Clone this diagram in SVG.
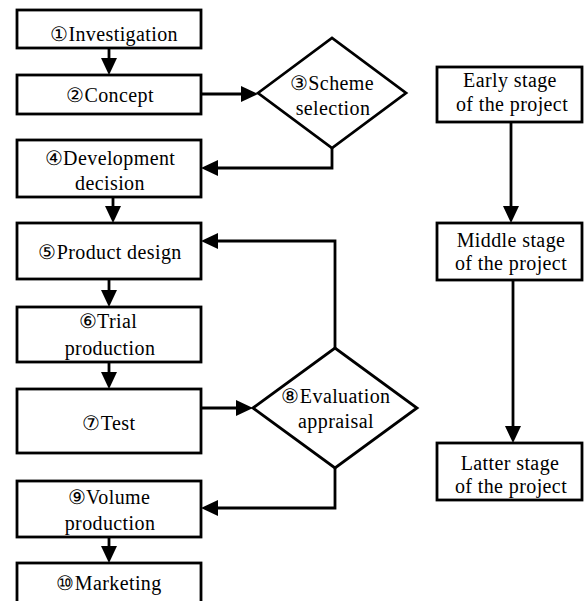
<svg xmlns="http://www.w3.org/2000/svg" width="584" height="601" viewBox="0 0 584 601">
<style>
.box{fill:#fff;stroke:#000;stroke-width:2.8}
.dia{fill:#fff;stroke:#000;stroke-width:2.8;stroke-linejoin:miter}
.con{fill:none;stroke:#000;stroke-width:2.8}
text{font-size:20px;fill:#000;text-anchor:middle;font-family:'Liberation Serif','Times New Roman',serif;letter-spacing:0.4px}
</style>
<defs>
<marker id="ah" markerUnits="userSpaceOnUse" markerWidth="17" markerHeight="17" refX="0" refY="8" orient="auto" overflow="visible">
<path d="M0,0 L17,8 L0,16 z" fill="#000"/>
</marker>
</defs>
<rect width="584" height="601" fill="#fff"/>
<g id="connectors">
<path class="con" d="M109,48 V58" marker-end="url(#ah)"/>
<path class="con" d="M201,94 H241" marker-end="url(#ah)"/>
<path class="con" d="M332,148 V168 H218" marker-end="url(#ah)"/>
<path class="con" d="M113,197 V206" marker-end="url(#ah)"/>
<path class="con" d="M335,348 V241 H218" marker-end="url(#ah)"/>
<path class="con" d="M109,279 V290" marker-end="url(#ah)"/>
<path class="con" d="M109,362 V372" marker-end="url(#ah)"/>
<path class="con" d="M201,408 H236" marker-end="url(#ah)"/>
<path class="con" d="M335,468 V508 H218" marker-end="url(#ah)"/>
<path class="con" d="M109,537 V546" marker-end="url(#ah)"/>
<path class="con" d="M511,122 V206" marker-end="url(#ah)"/>
<path class="con" d="M513,280 V426" marker-end="url(#ah)"/>
</g>
<g id="n1"><rect class="box" x="17" y="10" width="184" height="38"/><text x="114" y="41">①Investigation</text></g>
<g id="n2"><rect class="box" x="17" y="75" width="184" height="39"/><text x="110" y="102">②Concept</text></g>
<g id="n3"><polygon class="dia" points="258,93 332,38 406,93 332,148"/><text x="332" y="90">③Scheme</text><text x="333" y="115">selection</text></g>
<g id="n4"><rect class="box" x="17" y="140" width="184" height="57"/><text x="110" y="165">④Development</text><text x="110" y="190">decision</text></g>
<g id="n5"><rect class="box" x="17" y="223" width="184" height="56"/><text x="110" y="259">⑤Product design</text></g>
<g id="n6"><rect class="box" x="17" y="307" width="184" height="55"/><text x="108" y="328">⑥Trial</text><text x="110" y="355">production</text></g>
<g id="n7"><rect class="box" x="17" y="389" width="184" height="64"/><text x="109" y="430">⑦Test</text></g>
<g id="n8"><polygon class="dia" points="253,408 335,348 417,408 335,468"/><text x="336" y="403">⑧Evaluation</text><text x="336" y="428">appraisal</text></g>
<g id="n9"><rect class="box" x="17" y="481" width="184" height="56"/><text x="109" y="504">⑨Volume</text><text x="110" y="530">production</text></g>
<g id="n10"><rect class="box" x="17" y="563" width="184" height="60"/><text x="109" y="590">⑩Marketing</text></g>
<g id="early"><rect class="box" x="437" y="67" width="145" height="55"/><text x="510" y="87">Early stage</text><text x="512" y="111">of the project</text></g>
<g id="middle"><rect class="box" x="437" y="223" width="145" height="57"/><text x="511" y="247">Middle stage</text><text x="511" y="270">of the project</text></g>
<g id="latter"><rect class="box" x="437" y="443" width="145" height="57"/><text x="510" y="470">Latter stage</text><text x="511" y="493">of the project</text></g>
</svg>
